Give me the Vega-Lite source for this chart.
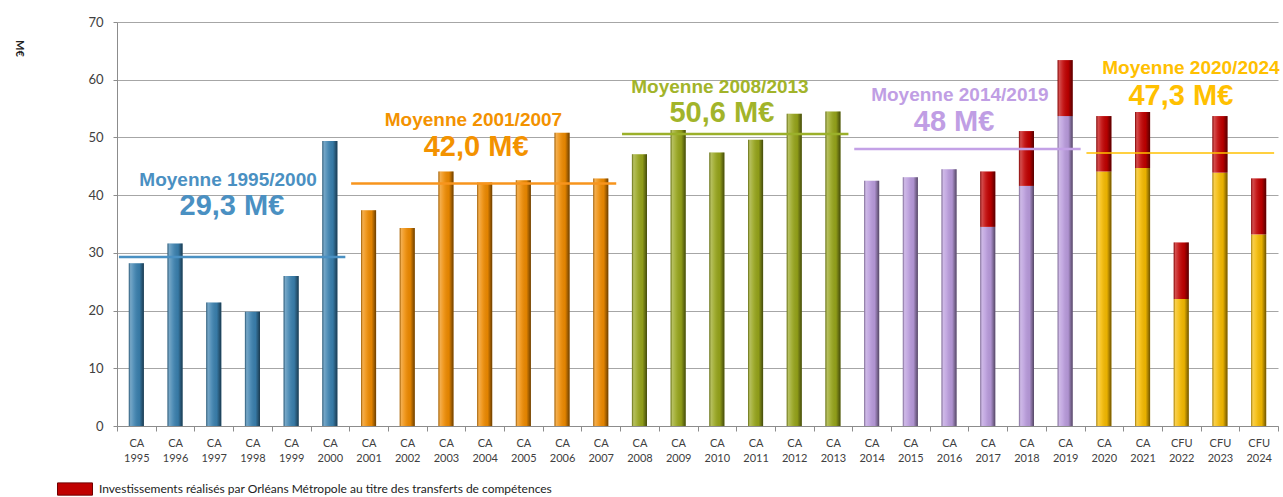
{
  "$schema": "https://vega.github.io/schema/vega-lite/v6.json",
  "width": 1161,
  "height": 404,
  "autosize": {"type": "none"},
  "padding": {"left": 117, "top": 22, "right": 5, "bottom": 71},
  "background": "white",
  "config": {"view": {"stroke": null}, "font": "Lato"},
  "datasets": {
    "barres": [
      {"annee": "CA 1995", "categorie": "1995/2000", "montant": 28.2},
      {"annee": "CA 1996", "categorie": "1995/2000", "montant": 31.6},
      {"annee": "CA 1997", "categorie": "1995/2000", "montant": 21.4},
      {"annee": "CA 1998", "categorie": "1995/2000", "montant": 19.8},
      {"annee": "CA 1999", "categorie": "1995/2000", "montant": 26.0},
      {"annee": "CA 2000", "categorie": "1995/2000", "montant": 49.4},
      {"annee": "CA 2001", "categorie": "2001/2007", "montant": 37.4},
      {"annee": "CA 2002", "categorie": "2001/2007", "montant": 34.3},
      {"annee": "CA 2003", "categorie": "2001/2007", "montant": 44.1},
      {"annee": "CA 2004", "categorie": "2001/2007", "montant": 42.2},
      {"annee": "CA 2005", "categorie": "2001/2007", "montant": 42.6},
      {"annee": "CA 2006", "categorie": "2001/2007", "montant": 50.8},
      {"annee": "CA 2007", "categorie": "2001/2007", "montant": 42.9},
      {"annee": "CA 2008", "categorie": "2008/2013", "montant": 47.1},
      {"annee": "CA 2009", "categorie": "2008/2013", "montant": 51.3},
      {"annee": "CA 2010", "categorie": "2008/2013", "montant": 47.4},
      {"annee": "CA 2011", "categorie": "2008/2013", "montant": 49.6},
      {"annee": "CA 2012", "categorie": "2008/2013", "montant": 54.1},
      {"annee": "CA 2013", "categorie": "2008/2013", "montant": 54.5},
      {"annee": "CA 2014", "categorie": "2014/2019", "montant": 42.5},
      {"annee": "CA 2015", "categorie": "2014/2019", "montant": 43.1},
      {"annee": "CA 2016", "categorie": "2014/2019", "montant": 44.5},
      {"annee": "CA 2017", "categorie": "2014/2019", "montant": 34.5},
      {"annee": "CA 2017", "categorie": "Investissements réalisés par Orléans Métropole  au titre des transferts de compétences", "montant": 9.6},
      {"annee": "CA 2018", "categorie": "2014/2019", "montant": 41.6},
      {"annee": "CA 2018", "categorie": "Investissements réalisés par Orléans Métropole  au titre des transferts de compétences", "montant": 9.5},
      {"annee": "CA 2019", "categorie": "2014/2019", "montant": 53.7},
      {"annee": "CA 2019", "categorie": "Investissements réalisés par Orléans Métropole  au titre des transferts de compétences", "montant": 9.7},
      {"annee": "CA 2020", "categorie": "2020/2024", "montant": 44.1},
      {"annee": "CA 2020", "categorie": "Investissements réalisés par Orléans Métropole  au titre des transferts de compétences", "montant": 9.6},
      {"annee": "CA 2021", "categorie": "2020/2024", "montant": 44.7},
      {"annee": "CA 2021", "categorie": "Investissements réalisés par Orléans Métropole  au titre des transferts de compétences", "montant": 9.7},
      {"annee": "CFU 2022", "categorie": "2020/2024", "montant": 22.0},
      {"annee": "CFU 2022", "categorie": "Investissements réalisés par Orléans Métropole  au titre des transferts de compétences", "montant": 9.8},
      {"annee": "CFU 2023", "categorie": "2020/2024", "montant": 43.9},
      {"annee": "CFU 2023", "categorie": "Investissements réalisés par Orléans Métropole  au titre des transferts de compétences", "montant": 9.8},
      {"annee": "CFU 2024", "categorie": "2020/2024", "montant": 33.2},
      {"annee": "CFU 2024", "categorie": "Investissements réalisés par Orléans Métropole  au titre des transferts de compétences", "montant": 9.7}
    ],
    "moyennes": [
      {"periode": "1995/2000", "titre": "Moyenne 1995/2000", "libelle": "29,3 M€", "moyenne": 29.3, "debut": "CA 1995", "fin": "CA 2000"},
      {"periode": "2001/2007", "titre": "Moyenne 2001/2007", "libelle": "42,0 M€", "moyenne": 42.0, "debut": "CA 2001", "fin": "CA 2007"},
      {"periode": "2008/2013", "titre": "Moyenne 2008/2013", "libelle": "50,6 M€", "moyenne": 50.6, "debut": "CA 2008", "fin": "CA 2013"},
      {"periode": "2014/2019", "titre": "Moyenne 2014/2019", "libelle": "48 M€", "moyenne": 48.0, "debut": "CA 2014", "fin": "CA 2019"},
      {"periode": "2020/2024", "titre": "Moyenne 2020/2024", "libelle": "47,3 M€", "moyenne": 47.3, "debut": "CA 2020", "fin": "CFU 2024"}
    ]
  },
  "layer": [
    {
      "data": {"name": "barres"},
      "mark": {"type": "bar", "width": {"band": 0.39}},
      "encoding": {
        "x": {
          "field": "annee", "type": "nominal", "sort": null,
          "scale": {"paddingInner": 0, "paddingOuter": 0},
          "axis": {
            "title": null, "labelExpr": "isValid(datum.value) ? split(datum.value, ' ') : ''", "labelAngle": 0,
            "labelFontSize": 11, "labelColor": "#404040", "labelPadding": 6, "labelLineHeight": 15,
            "tickBand": "extent", "tickSize": 5, "tickColor": "#8c8c8c", "domainColor": "#8c8c8c", "grid": false
          }
        },
        "y": {
          "field": "montant", "type": "quantitative", "stack": "zero",
          "scale": {"domain": [0, 70], "nice": false},
          "axis": {
            "title": "M€", "titleAngle": 90, "titleX": -99, "titleY": 26, "titleAlign": "center", "titleBaseline": "middle",
            "titleFontSize": 11, "titleFontWeight": "bold", "titleColor": "#222222",
            "values": [0, 10, 20, 30, 40, 50, 60, 70], "grid": true, "gridColor": "#A6A6A6",
            "domainColor": "#8c8c8c", "tickSize": 4, "tickColor": "#8c8c8c",
            "labelFontSize": 13, "labelColor": "#404040", "labelPadding": 10
          }
        },
        "color": {
          "field": "categorie", "type": "nominal",
          "scale": {
            "domain": ["1995/2000", "2001/2007", "2008/2013", "2014/2019", "2020/2024", "Investissements réalisés par Orléans Métropole  au titre des transferts de compétences"],
            "range": ["#3A80AE", "#EE8A00", "#96A41A", "#B99BDC", "#F5BA00", "#C00000"]
          },
          "legend": {
            "values": ["Investissements réalisés par Orléans Métropole  au titre des transferts de compétences"],
            "orient": "none", "legendX": -60, "legendY": 449, "title": null,
            "symbolType": "M-1,-0.35H1V0.35H-1Z", "symbolSize": 1225, "symbolStrokeColor": "#700000", "symbolStrokeWidth": 1,
            "labelFontSize": 12, "labelLimit": 900, "labelColor": "#222222", "labelOffset": 6
          }
        },
        "order": {"field": "categorie", "sort": "ascending"}
      }
    },
    {
      "data": {"name": "barres"},
      "mark": {
        "type": "bar", "width": {"band": 0.39},
        "color": {
          "gradient": "linear", "x1": 0, "y1": 0, "x2": 1, "y2": 0,
          "stops": [
            {"offset": 0, "color": "rgba(0,0,0,0.35)"},
            {"offset": 0.12, "color": "rgba(255,255,255,0.3)"},
            {"offset": 0.35, "color": "rgba(255,255,255,0.12)"},
            {"offset": 0.7, "color": "rgba(0,0,0,0.05)"},
            {"offset": 1, "color": "rgba(0,0,0,0.55)"}
          ]
        }
      },
      "encoding": {
        "x": {"field": "annee", "type": "nominal", "sort": null},
        "y": {"field": "montant", "type": "quantitative", "stack": "zero"},
        "detail": {"field": "categorie"},
        "order": {"field": "categorie", "sort": "ascending"}
      }
    },
    {
      "data": {"name": "moyennes"},
      "mark": {"type": "rule"},
      "encoding": {
        "x": {"field": "debut", "type": "nominal", "sort": null, "bandPosition": 0.05},
        "x2": {"field": "fin", "bandPosition": 0.9},
        "y": {"field": "moyenne", "type": "quantitative"},
        "strokeWidth": {"condition": {"test": "datum.periode == '2020/2024'", "value": 1.5}, "value": 2.5},
        "stroke": {
          "field": "periode", "type": "nominal",
          "scale": {"domain": ["1995/2000", "2001/2007", "2008/2013", "2014/2019", "2020/2024"],
                    "range": ["#4A90C2", "#F7941D", "#9BB02A", "#C3A1E6", "#FFC000"]},
          "legend": null
        }
      }
    },
    {
      "data": {"name": "moyennes"},
      "transform": [{"filter": "datum.periode == '1995/2000'"}],
      "layer": [
        {"mark": {"type": "text", "font": "Liberation Sans", "fontWeight": "bold", "fontSize": 19, "color": "#4A90C2", "baseline": "middle"},
         "encoding": {"x": {"datum": "CA 1997", "type": "nominal", "bandPosition": 0.87}, "y": {"datum": 42.7, "type": "quantitative"}, "text": {"field": "titre"}}},
        {"mark": {"type": "text", "font": "Liberation Sans", "fontWeight": "bold", "fontSize": 29, "color": "#4A90C2", "baseline": "middle"},
         "encoding": {"x": {"datum": "CA 1997", "type": "nominal", "bandPosition": 0.97}, "y": {"datum": 38.1, "type": "quantitative"}, "text": {"field": "libelle"}}}
      ]
    },
    {
      "data": {"name": "moyennes"},
      "transform": [{"filter": "datum.periode == '2001/2007'"}],
      "layer": [
        {"mark": {"type": "text", "font": "Liberation Sans", "fontWeight": "bold", "fontSize": 19, "color": "#F39200", "baseline": "middle"},
         "encoding": {"x": {"datum": "CA 2004", "type": "nominal", "bandPosition": 0.21}, "y": {"datum": 53.1, "type": "quantitative"}, "text": {"field": "titre"}}},
        {"mark": {"type": "text", "font": "Liberation Sans", "fontWeight": "bold", "fontSize": 29, "color": "#F39200", "baseline": "middle"},
         "encoding": {"x": {"datum": "CA 2004", "type": "nominal", "bandPosition": 0.28}, "y": {"datum": 48.3, "type": "quantitative"}, "text": {"field": "libelle"}}}
      ]
    },
    {
      "data": {"name": "moyennes"},
      "transform": [{"filter": "datum.periode == '2008/2013'"}],
      "layer": [
        {"mark": {"type": "text", "font": "Liberation Sans", "fontWeight": "bold", "fontSize": 19, "color": "#A2B42A", "baseline": "middle"},
         "encoding": {"x": {"datum": "CA 2010", "type": "nominal", "bandPosition": 0.58}, "y": {"datum": 58.8, "type": "quantitative"}, "text": {"field": "titre"}}},
        {"mark": {"type": "text", "font": "Liberation Sans", "fontWeight": "bold", "fontSize": 29, "color": "#A2B42A", "baseline": "middle"},
         "encoding": {"x": {"datum": "CA 2010", "type": "nominal", "bandPosition": 0.63}, "y": {"datum": 54.3, "type": "quantitative"}, "text": {"field": "libelle"}}}
      ]
    },
    {
      "data": {"name": "moyennes"},
      "transform": [{"filter": "datum.periode == '2014/2019'"}],
      "layer": [
        {"mark": {"type": "text", "font": "Liberation Sans", "fontWeight": "bold", "fontSize": 19, "color": "#C09EE4", "baseline": "middle"},
         "encoding": {"x": {"datum": "CA 2016", "type": "nominal", "bandPosition": 0.78}, "y": {"datum": 57.4, "type": "quantitative"}, "text": {"field": "titre"}}},
        {"mark": {"type": "text", "font": "Liberation Sans", "fontWeight": "bold", "fontSize": 29, "color": "#C09EE4", "baseline": "middle"},
         "encoding": {"x": {"datum": "CA 2016", "type": "nominal", "bandPosition": 0.63}, "y": {"datum": 52.6, "type": "quantitative"}, "text": {"field": "libelle"}}}
      ]
    },
    {
      "data": {"name": "moyennes"},
      "transform": [{"filter": "datum.periode == '2020/2024'"}],
      "layer": [
        {"mark": {"type": "text", "font": "Liberation Sans", "fontWeight": "bold", "fontSize": 19, "color": "#FFC000", "baseline": "middle"},
         "encoding": {"x": {"datum": "CFU 2022", "type": "nominal", "bandPosition": 0.75}, "y": {"datum": 62.1, "type": "quantitative"}, "text": {"field": "titre"}}},
        {"mark": {"type": "text", "font": "Liberation Sans", "fontWeight": "bold", "fontSize": 29, "color": "#FFC000", "baseline": "middle"},
         "encoding": {"x": {"datum": "CFU 2022", "type": "nominal", "bandPosition": 0.49}, "y": {"datum": 57.2, "type": "quantitative"}, "text": {"field": "libelle"}}}
      ]
    }
  ]
}
